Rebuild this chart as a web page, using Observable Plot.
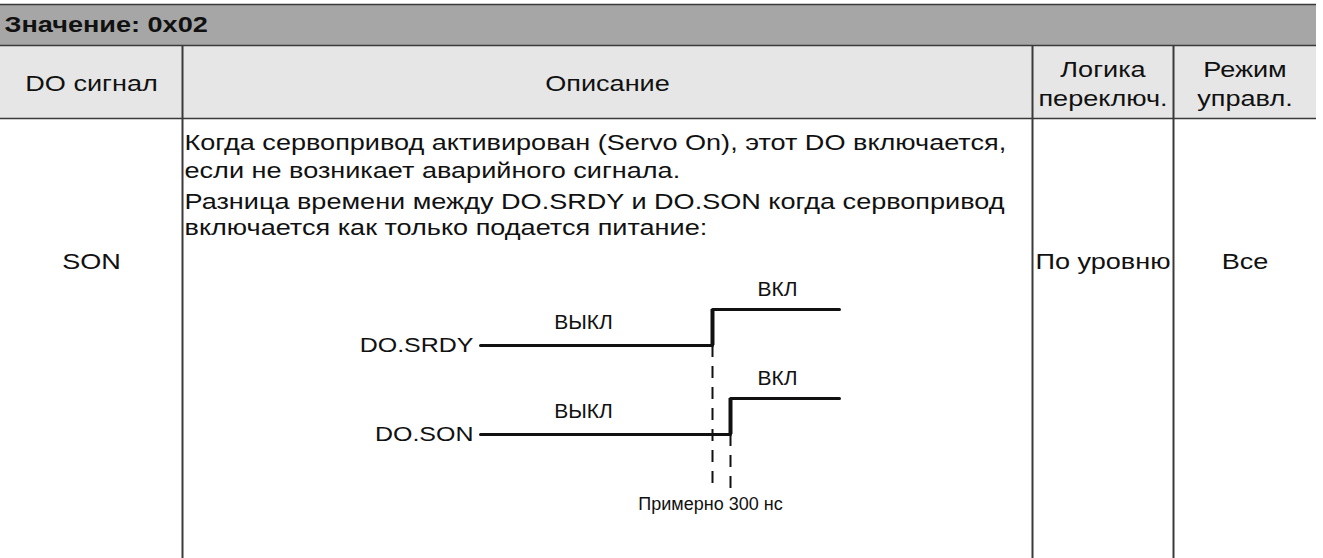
<!DOCTYPE html>
<html>
<head>
<meta charset="utf-8">
<script src="https://cdn.jsdelivr.net/npm/d3@7"></script>
<script src="https://cdn.jsdelivr.net/npm/@observablehq/plot@0.6"></script>
<style>
  html, body { margin: 0; padding: 0; background: #fff; }
  #chart svg { display: block; }
</style>
</head>
<body>
<div id="chart"></div>
<script>
// ---------- data ----------
const headerTitle = "Значение: 0x02";
const columnHeaders = [["DO сигнал"], ["Описание"], ["Логика", "переключ."], ["Режим", "управл."]];
const rowValues = ["SON", "", "По уровню", "Все"];
const descriptionLines = [
  "Когда сервопривод активирован (Servo On), этот DO включается,",
  "если не возникает аварийного сигнала.",
  "Разница времени между DO.SRDY и DO.SON когда сервопривод",
  "включается как только подается питание:"
];
const signalNames = ["DO.SRDY", "DO.SON"];
const offLabel = "ВЫКЛ";
const onLabel = "ВКЛ";
const edgeTimesNs = [0, 300];           // rising edge of each signal
const delayLabel = "Примерно 300 нс";

// ---------- layout ----------
const W = 1323, H = 558;
const colEdges = [0, 182, 1032, 1173, 1316];
const tableTop = 4, titleBottom = 45, headBottom = 118, bodyBottom = 558;
const lineColor = "#3a3a3a";
const font = "'Liberation Sans', Arial, sans-serif";

// diagram geometry (time axis not to scale)
const tStart = -4000, tEnd = 2100;
const timeline = d3.scaleLinear().domain([tStart, 0, 300, tEnd]).range([480, 712, 730, 839]);
const lowY = [345, 434];
const swing = 36;
const dashBottom = 490;

const waves = [];
signalNames.forEach((name, i) => {
  const lo = lowY[i], hi = lowY[i] - swing;
  waves.push({s: name, x: timeline(tStart), y: lo});
  waves.push({s: name, x: timeline(edgeTimesNs[i]), y: lo});
  waves.push({s: name, x: timeline(edgeTimesNs[i]), y: hi});
  waves.push({s: name, x: timeline(tEnd), y: hi});
});
const edges = edgeTimesNs.map((t, i) => ({x: timeline(t), y1: lowY[i], y2: lowY[i] - swing}));
const dashes = edgeTimesNs.map((t, i) => ({x: timeline(t), y1: lowY[i], y2: dashBottom}));

const colCenters = colEdges.slice(0, -1).map((e, i) => (e + colEdges[i + 1]) / 2);
const headCenter = (titleBottom + headBottom) / 2;
const headerTexts = columnHeaders.map((lines, i) => ({x: colCenters[i], y: headCenter, t: lines.join("\n")}));
const bodyMid = 262;
const rowTexts = rowValues.map((t, i) => ({x: colCenters[i], y: bodyMid, t})).filter(d => d.t);
const descY = [143, 171, 202, 228];
const descTexts = descriptionLines.map((t, i) => ({x: colEdges[1] + 2, y: descY[i], t}));

const sigLabels = signalNames.map((t, i) => ({x: timeline(tStart) - 7, y: lowY[i], t}));
const offLabels = signalNames.map((s, i) => ({x: 583, y: lowY[i] - 23, t: offLabel}));
const onLabels = signalNames.map((s, i) => ({x: 777, y: lowY[i] - swing - 20, t: onLabel}));

const plot = Plot.plot({
  width: W, height: H,
  margin: 0,
  x: {domain: [0, W], range: [0, W], axis: null},
  y: {domain: [0, H], range: [0, H], axis: null},
  style: {fontFamily: font, background: "#fff"},
  marks: [
    Plot.rect([{x1: colEdges[0], x2: colEdges[4], y1: tableTop, y2: titleBottom}], {x1: "x1", x2: "x2", y1: "y1", y2: "y2", fill: "#a6a6a6"}),
    Plot.rect([{x1: colEdges[0], x2: colEdges[4], y1: titleBottom, y2: headBottom}], {x1: "x1", x2: "x2", y1: "y1", y2: "y2", fill: "#e6e6e6"}),
    Plot.ruleY([tableTop, titleBottom, headBottom], {y: d => d, x1: colEdges[0], x2: colEdges[4], stroke: lineColor, strokeWidth: 1.6}),
    Plot.ruleX(colEdges.slice(1, 4), {x: d => d, y1: titleBottom, y2: bodyBottom, stroke: lineColor, strokeWidth: 2}),
    // text marks (order matters for stretch factors below)
    Plot.text([headerTitle], {x: 4, y: 25, text: d => d, textAnchor: "start", fontSize: 21.5, fontWeight: "bold", fill: "#111"}),
    Plot.text(headerTexts, {x: "x", y: "y", text: "t", fontSize: 21.5, lineHeight: 1.36, fill: "#111"}),
    Plot.text(rowTexts, {x: "x", y: "y", text: "t", fontSize: 21.5, fill: "#111"}),
    Plot.text(descTexts, {x: "x", y: "y", text: "t", textAnchor: "start", fontSize: 21.5, fill: "#111"}),
    Plot.text(sigLabels, {x: "x", y: "y", text: "t", textAnchor: "end", fontSize: 20, fill: "#111"}),
    Plot.text(offLabels, {x: "x", y: "y", text: "t", fontSize: 21, fill: "#111"}),
    Plot.text(onLabels, {x: "x", y: "y", text: "t", fontSize: 21, fill: "#111"}),
    Plot.text([delayLabel], {x: (dashes[0].x + dashes[1].x) / 2 - 11, y: dashBottom + 14, text: d => d, fontSize: 18, fill: "#111"}),
    // timing diagram
    Plot.line(waves, {x: "x", y: "y", z: "s", stroke: "#111", strokeWidth: 3, curve: "linear"}),
    Plot.ruleX(edges, {x: "x", y1: "y1", y2: "y2", stroke: "#111", strokeWidth: 4}),
    Plot.ruleX(dashes, {x: "x", y1: "y1", y2: "y2", stroke: "#111", strokeWidth: 2, strokeDasharray: "12,9"})
  ]
});

// horizontal stretch of text (the source is horizontally stretched)
const stretch = [1.26, 1.26, 1.26, 1.26, 1.25, 1, 1, 1];
plot.querySelectorAll('g[aria-label="text"]').forEach((g, k) => {
  const s = stretch[k] ?? 1;
  if (s === 1) return;
  g.querySelectorAll("text").forEach(t => {
    const tr = t.getAttribute("transform");
    if (tr) {
      t.setAttribute("transform", tr + ` scale(${s},1)`);
    } else {
      const x = t.getAttribute("x") || 0, y = t.getAttribute("y") || 0;
      t.removeAttribute("x"); t.removeAttribute("y");
      t.setAttribute("transform", `translate(${x},${y}) scale(${s},1)`);
    }
  });
});
document.getElementById("chart").appendChild(plot);
</script>
</body>
</html>
